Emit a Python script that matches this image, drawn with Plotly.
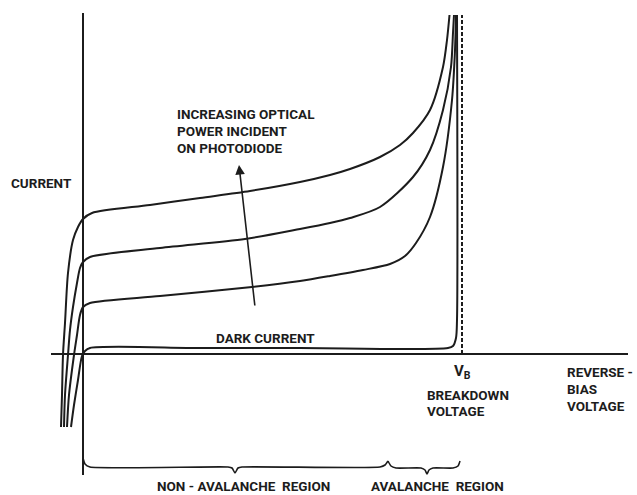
import plotly.graph_objects as go

# Values read from the schematic (arbitrary units):
# x = reverse-bias voltage, y = current; origin at the axes crossing.
breakdown_v = 379

top_v = [-22, -21, -20, -18, -15, -10, -5, 0, 9, 67, 117, 167, 217, 247, 267, 297, 317, 330, 347, 360, 364, 366.5]
top_i = [-73, -41, -1, 31, 81, 114, 127, 135, 141, 149, 156, 163, 172, 179, 185, 197, 209, 221, 244, 287, 314, 339]

mid_v = [-19, -18, -15, -13, -10, -6, -3, 0, 7, 77, 162, 217, 247, 267, 297, 330, 347, 360, 368, 370, 371]
mid_i = [-73, -41, -1, 24, 47, 71, 86, 92, 97, 106, 115, 125, 131, 136, 147, 177, 204, 244, 287, 321, 339]

low_v = [-16, -14, -9, -6, -3, 0, 7, 77, 169, 217, 247, 280, 307, 322, 333, 347, 360, 369, 372, 373]
low_i = [-73, -41, -1, 19, 39, 47, 51, 58, 67, 73, 78, 84, 90, 98, 111, 137, 187, 254, 304, 339]

dark_v = [-12, -9, -5, -1, 2, 7, 117, 217, 365, 370, 373, 374, 374]
dark_i = [-73, -51, -26, -2, 3, 6, 6, 6, 6, 8, 16, 34, 339]

# axes extents
current_axis_v = [0, 0]
current_axis_i = [-121, 341]
voltage_axis_v = [-32, 545]
voltage_axis_i = [0, 0]
breakdown_line_i = [0, 339]

# region braces
non_av_brace_v = [0, 2, 7, 145, 149, 152, 155, 159, 297, 302, 305]
non_av_brace_i = [-104, -110, -113, -113, -114, -119, -114, -113, -113, -111, -107]
av_brace_v = [305, 308, 313, 338, 342, 344, 346, 350, 370, 375, 377]
av_brace_i = [-107, -112, -114, -114, -116, -120, -116, -114, -114, -112, -107]

# arrow for increasing optical power (tail, head)
arrow_v = [172, 156]
arrow_i = [47, 189]

INK = "#1c1c1c"
FONT = "Roboto, Liberation Sans Narrow, sans-serif"
FS = 13.5

fig = go.Figure()

def add_line(x, y, width=2, dash=None, shape="linear", smoothing=0.0):
    fig.add_trace(go.Scatter(
        x=x, y=y, mode="lines", hoverinfo="skip",
        line=dict(color=INK, width=width, dash=dash, shape=shape, smoothing=smoothing),
    ))

add_line(current_axis_v, current_axis_i, width=2)
add_line(voltage_axis_v, voltage_axis_i, width=2)
add_line([breakdown_v, breakdown_v], breakdown_line_i, width=2, dash="4px,2px")
for v, i in [(top_v, top_i), (mid_v, mid_i), (low_v, low_i), (dark_v, dark_i)]:
    add_line(v, i, width=2, shape="spline", smoothing=0.8)
add_line(non_av_brace_v, non_av_brace_i, width=1.6, shape="spline", smoothing=0.5)
add_line(av_brace_v, av_brace_i, width=1.6, shape="spline", smoothing=0.5)

fig.add_annotation(x=arrow_v[1], y=arrow_i[1], ax=arrow_v[0], ay=arrow_i[0],
                   xref="x", yref="y", axref="x", ayref="y", text="", showarrow=True,
                   arrowhead=2, arrowsize=1.2, arrowwidth=1.6, arrowcolor=INK)

def label(text, x, y, anchor="center", size=FS):
    fig.add_annotation(x=x, y=y, text=text, showarrow=False, xanchor=anchor, yanchor="middle",
                       font=dict(family=FONT, size=size, color=INK, weight="bold"))

label("CURRENT", -42, 171)
label("INCREASING OPTICAL", 92, 240, anchor="left")
label("POWER INCIDENT", 92, 223, anchor="left")
label("ON PHOTODIODE", 92, 206, anchor="left")
label("DARK CURRENT", 182, 16)
label("V<sub>B</sub>", breakdown_v, -18, size=15)
label("BREAKDOWN", 342, -41, anchor="left")
label("VOLTAGE", 342, -57, anchor="left")
label("REVERSE -", 482, -18, anchor="left")
label("BIAS", 482, -35, anchor="left")
label("VOLTAGE", 482, -52, anchor="left")
label("NON - AVALANCHE\u00a0\u00a0REGION", 160, -132)
label("AVALANCHE\u00a0\u00a0REGION", 354, -132)

fig.update_layout(
    width=637, height=495, margin=dict(l=0, r=0, t=0, b=0),
    paper_bgcolor="white", plot_bgcolor="white", showlegend=False,
    xaxis=dict(range=[-83, 554], visible=False, fixedrange=True),
    yaxis=dict(range=[-141, 354], visible=False, fixedrange=True),
)

fig.write_html("out.html", config={"displayModeBar": False},
               post_script="document.body.style.margin='0';document.body.style.overflow='hidden';")
